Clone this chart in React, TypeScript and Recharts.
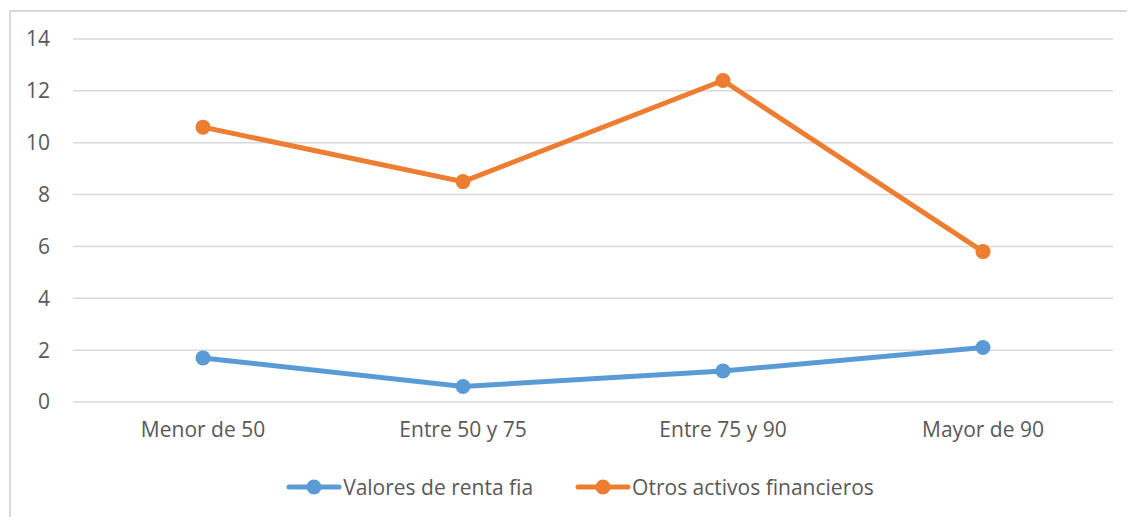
import React from "react";
import { CartesianGrid, Legend, Line, LineChart, XAxis, YAxis } from "recharts";

const CATEGORIES = ["Menor de 50", "Entre 50 y 75", "Entre 75 y 90", "Mayor de 90"];
const RENTA_FIJA = [1.7, 0.6, 1.2, 2.1];
const OTROS_ACTIVOS = [10.6, 8.5, 12.4, 5.8];
const Y_TICKS = [0, 2, 4, 6, 8, 10, 12, 14];

const SERIES = [
  { key: "renta", label: "Valores de renta fia", color: "#5b9bd5" },
  { key: "otros", label: "Otros activos financieros", color: "#ed7d31" },
];

const data = CATEGORIES.map((name, i) => ({
  name,
  renta: RENTA_FIJA[i],
  otros: OTROS_ACTIVOS[i],
}));

const FONT = "'Open Sans', sans-serif";
const TEXT_COLOR = "#595959";
const GRID_COLOR = "#d9d9d9";

function LegendContent(): React.ReactElement {
  return (
    <div
      style={{
        height: 40,
        display: "flex",
        justifyContent: "center",
        alignItems: "center",
        gap: 42,
        marginLeft: 36,
        fontFamily: FONT,
        fontSize: 21,
        color: TEXT_COLOR,
      }}
    >
      {SERIES.map((s) => (
        <div key={s.key} style={{ display: "flex", alignItems: "center" }}>
          <svg width={56} height={16} style={{ marginRight: 1 }}>
            <line x1={3} y1={8} x2={53} y2={8} stroke={s.color} strokeWidth={5} strokeLinecap="round" />
            <circle cx={28} cy={8} r={7.5} fill={s.color} />
          </svg>
          <span>{s.label}</span>
        </div>
      ))}
    </div>
  );
}

export default function App(): React.ReactElement {
  return (
    <div
      style={{
        marginTop: 2,
        marginLeft: 1,
        width: 1124,
        height: 505,
        borderTop: `2px solid ${GRID_COLOR}`,
        borderLeft: `2px solid ${GRID_COLOR}`,
        background: "#ffffff",
      }}
    >
      <LineChart
        width={1124}
        height={505}
        data={data}
        margin={{ top: 27, right: 22, bottom: 10, left: 0 }}
        style={{ fontFamily: FONT }}
      >
        <CartesianGrid vertical={false} stroke={GRID_COLOR} strokeWidth={1.5} />
        <XAxis
          dataKey="name"
          height={65}
          axisLine={false}
          tickLine={false}
          tickSize={0}
          tickMargin={20}
          interval={0}
          padding={{ left: 130, right: 130 }}
          tick={{ fill: TEXT_COLOR, fontSize: 21 }}
        />
        <YAxis
          width={62}
          domain={[0, 14]}
          ticks={Y_TICKS}
          axisLine={false}
          tickLine={false}
          tickSize={0}
          tickMargin={23}
          tick={{ fill: TEXT_COLOR, fontSize: 21 }}
        />
        <Legend verticalAlign="bottom" content={<LegendContent />} />
        {SERIES.map((s) => (
          <Line
            key={s.key}
            dataKey={s.key}
            name={s.label}
            stroke={s.color}
            strokeWidth={5}
            strokeLinecap="round"
            dot={{ r: 7.5, fill: s.color, stroke: s.color, strokeWidth: 0 }}
            activeDot={false}
            isAnimationActive={false}
          />
        ))}
      </LineChart>
    </div>
  );
}
